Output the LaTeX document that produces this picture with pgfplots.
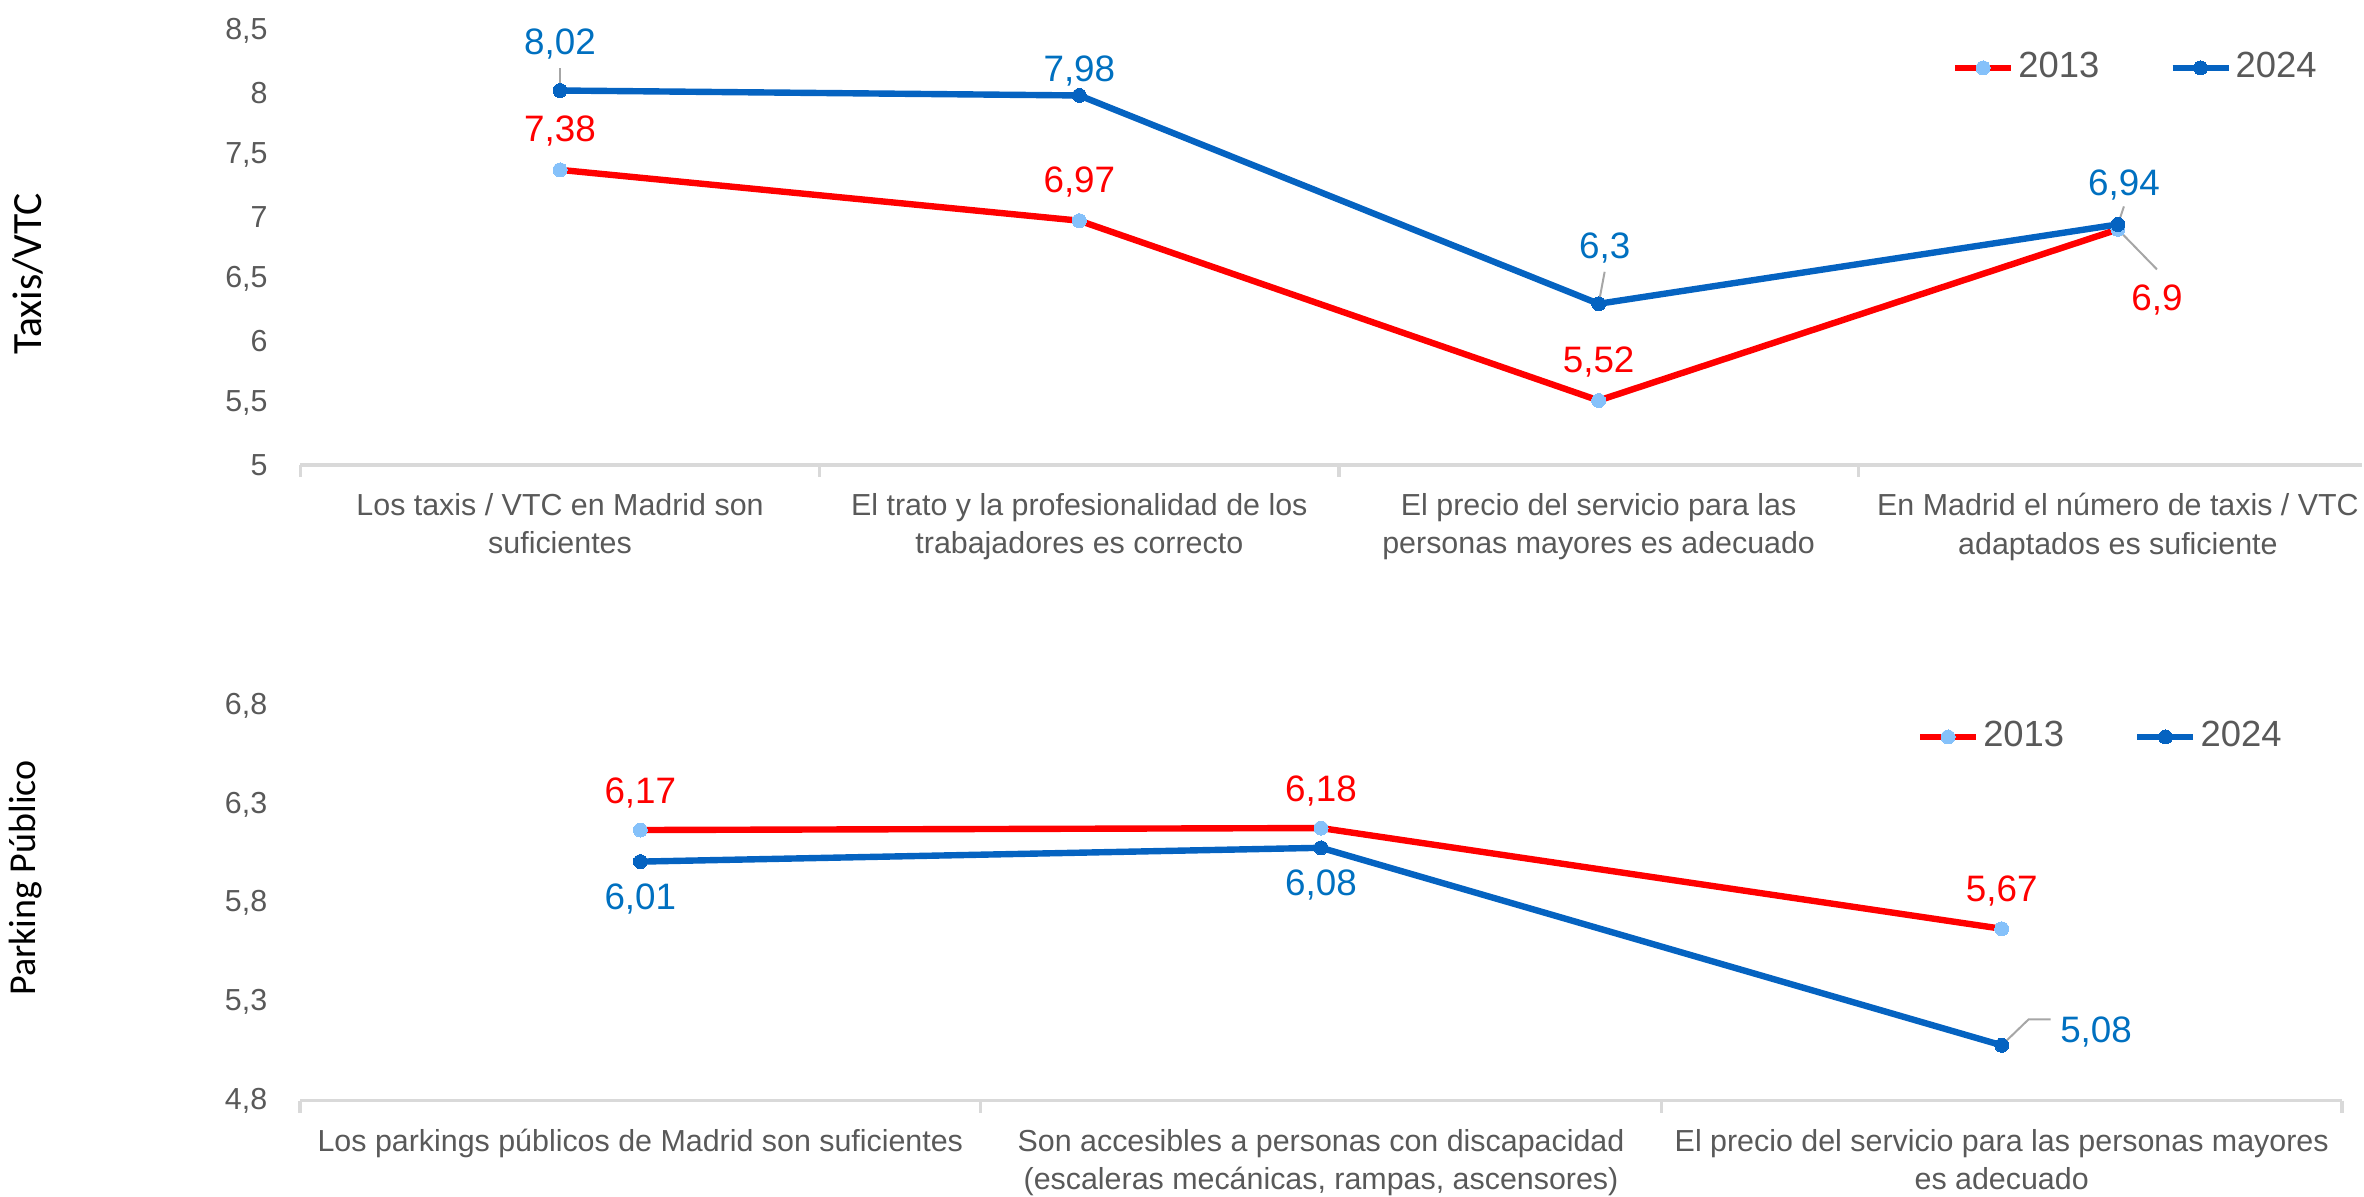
\documentclass[border=0pt]{standalone}
\usepackage{pgfplots}
\pgfplotsset{compat=1.18}
\usepackage{fontspec}
\setmainfont{Liberation Sans}
\newfontfamily\carl{Carlito}
\definecolor{redl}{HTML}{FF0000}
\definecolor{bluel}{HTML}{0563C1}
\definecolor{bluet}{HTML}{0070C0}
\definecolor{lightm}{HTML}{85C1FA}
\definecolor{tickgray}{HTML}{595959}
\definecolor{axgray}{HTML}{D9D9D9}
\definecolor{leadg}{HTML}{A6A6A6}
\tikzset{catsep/.style={draw=axgray, line width=0.8pt}, leader/.style={draw=leadg, line width=0.5pt}}
\pgfplotsset{
  base/.style={
    scale only axis,
    anchor=south west,
    axis x line*=bottom, axis y line*=left,
    y axis line style={draw=none},
    x axis line style={draw=axgray, line width=0.8pt},
    major tick length=0pt,
    ytick style={draw=none},
    xtick style={draw=none},
    /pgf/number format/assume math mode=true,
    /pgf/number format/use comma,
    /pgf/number format/1000 sep={},
    yticklabel style={font=\fontsize{7.6}{9}\selectfont, text=tickgray, anchor=east, inner sep=0pt, xshift=-8pt},
    xticklabel style={font=\fontsize{7.6}{9.6}\selectfont, text=tickgray, align=center, anchor=north, inner sep=0pt, yshift=-6.9pt},
    xtick={0,1,2,3},
    clip=false,
    legend columns=2,
    legend image code/.code={\draw[mark repeat=2,mark phase=2] plot coordinates {(0pt,0pt)(7pt,0pt)(14pt,0pt)};},
    legend style={draw=none, fill=none, inner xsep=0pt, inner ysep=0pt, anchor=west,
      font=\fontsize{9.1}{10}\selectfont, text=tickgray, nodes={inner sep=1pt},
      /tikz/every even column/.append style={column sep=16.5pt}},
  },
  s13/.style={redl, line width=1.6pt, line join=round, mark=*, mark size=1.75pt, mark options={draw=lightm, fill=lightm, line width=0pt}},
  s24/.style={bluel, line width=1.6pt, line join=round, mark=*, mark size=1.75pt, mark options={draw=bluel, fill=bluel, line width=0pt}},
  lab/.style={draw=none, mark=none, forget plot, nodes near coords, point meta=explicit symbolic,
    nodes near coords style={font=\fontsize{9.2}{10}\selectfont, inner sep=0pt, anchor=base, text=#1}},
}
\begin{document}
\begin{tikzpicture}
% ---------------- Top: Taxis/VTC ----------------
\begin{axis}[base,
  at={(75.1pt,183pt)}, width=515.4pt, height=108.5pt,
  xmin=-0.5, xmax=3.47, ymin=5, ymax=8.5,
  ytick={5,5.5,6,6.5,7,7.5,8,8.5},
  xticklabels={{Los taxis / VTC en Madrid son\\suficientes},{El trato y la profesionalidad de los\\trabajadores es correcto},{El precio del servicio para las\\personas mayores es adecuado},{En Madrid el número de taxis / VTC\\adaptados es suficiente}},
  legend style={at={(0.8007,0.915)}},
]
\addplot[s13] coordinates {(0,7.38) (1,6.97) (2,5.52) (3,6.9)};
\addlegendentry{2013}
\addplot[s24] coordinates {(0,8.02) (1,7.98) (2,6.3) (3,6.94)};
\addlegendentry{2024}
% labels 2013
\addplot[lab=redl, nodes near coords style={yshift=7.1pt}] coordinates {(0,7.38) [7,38] (1,6.97) [6,97] (2,5.52) [5,52]};
\addplot[lab=redl, nodes near coords style={xshift=9.75pt, yshift=-20.3pt}] coordinates {(3,6.9) [6,9]};
% labels 2024
\addplot[lab=bluet, nodes near coords style={yshift=8.95pt}] coordinates {(0,8.02) [8,02]};
\addplot[lab=bluet, nodes near coords style={yshift=3.6pt}] coordinates {(1,7.98) [7,98]};
\addplot[lab=bluet, nodes near coords style={xshift=1.5pt, yshift=11.2pt}] coordinates {(2,6.3) [6,3]};
\addplot[lab=bluet, nodes near coords style={xshift=1.5pt, yshift=7.3pt}] coordinates {(3,6.94) [6,94]};
% category separators
\draw[catsep] (axis cs:-0.5,5) -- ++(0pt,-3pt);
\draw[catsep] (axis cs:0.5,5) -- ++(0pt,-3pt);
\draw[catsep] (axis cs:1.5,5) -- ++(0pt,-3pt);
\draw[catsep] (axis cs:2.5,5) -- ++(0pt,-3pt);
% leader lines
\draw[leader] (axis cs:0,8.02) ++(0pt,0.5pt) -- ++(0pt,5.25pt);
\draw[leader] (axis cs:2,6.3) -- ++(1.5pt,8pt);
\draw[leader] (axis cs:3,6.94) -- ++(1.5pt,4.5pt);
\draw[leader] (axis cs:3,6.9) -- ++(9.75pt,-10pt);
\end{axis}
% ---------------- Bottom: Parking Publico ----------------
\begin{axis}[base,
  at={(75pt,24.1pt)}, width=510.5pt, height=98.75pt,
  xmin=-0.5, xmax=2.5, ymin=4.8, ymax=6.8,
  ytick={4.8,5.3,5.8,6.3,6.8},
  xtick={0,1,2},
  xticklabels={{Los parkings públicos de Madrid son suficientes},{Son accesibles a personas con discapacidad\\(escaleras mecánicas, rampas, ascensores)},{El precio del servicio para las personas mayores\\es adecuado}},
  legend style={at={(0.7914,0.9205)}},
]
\addplot[s13] coordinates {(0,6.17) (1,6.18) (2,5.67)};
\addlegendentry{2013}
\addplot[s24] coordinates {(0,6.01) (1,6.08) (2,5.08)};
\addlegendentry{2024}
\addplot[lab=redl, nodes near coords style={yshift=6.7pt}] coordinates {(0,6.17) [6,17] (1,6.18) [6,18] (2,5.67) [5,67]};
\addplot[lab=bluet, nodes near coords style={yshift=-12pt}] coordinates {(0,6.01) [6,01] (1,6.08) [6,08]};
\addplot[lab=bluet, nodes near coords style={xshift=23.6pt, yshift=0.8pt}] coordinates {(2,5.08) [5,08]};
\draw[catsep] (axis cs:-0.5,4.8) -- ++(0pt,-3pt);
\draw[catsep] (axis cs:0.5,4.8) -- ++(0pt,-3pt);
\draw[catsep] (axis cs:1.5,4.8) -- ++(0pt,-3pt);
\draw[catsep] (axis cs:2.5,4.8) -- ++(0pt,-3pt);
\draw[leader] (axis cs:2,5.08) -- ++(6.75pt,6.5pt) -- ++(5.5pt,0pt);
\end{axis}
\node[rotate=90, font=\carl\fontsize{10.4}{11}\selectfont] at (7.1pt,230.75pt) {Taxis/VTC};
\node[rotate=90, font=\carl\fontsize{9.5}{10}\selectfont] at (6.3pt,79.75pt) {Parking Público};
\pgfresetboundingbox
\useasboundingbox (0,0) rectangle (591pt,299.25pt);
\end{tikzpicture}
\end{document}
